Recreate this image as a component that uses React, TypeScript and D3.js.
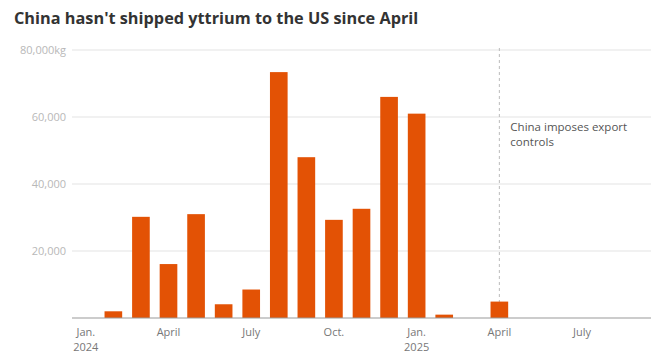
import * as d3 from "d3";
import React from "react";

const months = [
  "2024-01", "2024-02", "2024-03", "2024-04", "2024-05", "2024-06", "2024-07",
  "2024-08", "2024-09", "2024-10", "2024-11", "2024-12", "2025-01", "2025-02",
  "2025-03", "2025-04", "2025-05", "2025-06", "2025-07", "2025-08", "2025-09",
];
const shipments = [
  0, 2000, 30200, 16100, 31000, 4100, 8500, 73400, 48000, 29300, 32600,
  66000, 61000, 1000, 0, 4900, 0, 0, 0, 0, 0,
];
const yTicks = [20000, 40000, 60000, 80000];
const xTicks = [
  { month: "2024-01", label: ["Jan.", "2024"] },
  { month: "2024-04", label: ["April"] },
  { month: "2024-07", label: ["July"] },
  { month: "2024-10", label: ["Oct."] },
  { month: "2025-01", label: ["Jan.", "2025"] },
  { month: "2025-04", label: ["April"] },
  { month: "2025-07", label: ["July"] },
];
const annotationMonth = "2025-04";
const annotationText = ["China imposes export", "controls"];

const width = 659;
const height = 364;
const margin = { top: 50, right: 8, bottom: 46, left: 72 };
const font = "'Open Sans', 'Noto Sans', sans-serif";

export default function App() {
  const x = d3
    .scaleBand<string>()
    .domain(months)
    .range([margin.left, width - margin.right])
    .paddingInner(0.36)
    .paddingOuter(0.18);
  const y = d3
    .scaleLinear()
    .domain([0, 80000])
    .range([height - margin.bottom, margin.top]);
  const fmt = d3.format(",");
  const bw = x.bandwidth();
  const cx = (m: string) => (x(m) ?? 0) + bw / 2;
  const step = x.step();
  const axisLeft = (x(months[0]) ?? 0) - step * 0.5 + bw / 2;
  const axisRight = (x(months[months.length - 1]) ?? 0) + bw / 2 + step * 0.5;

  return (
    <svg width={width} height={height} style={{ display: "block", position: "absolute", left: 0, top: 0 }}>
      <rect width={width} height={height} fill="#fff" />
      <text x={14} y={24} fontFamily={font} fontWeight={700} fontSize={16.3} fill="#333">
        China hasn't shipped yttrium to the US since April
      </text>

      {yTicks.map((t) => (
        <g key={t}>
          <line x1={axisLeft} x2={axisRight} y1={y(t)} y2={y(t)} stroke="#e3e3e3" strokeWidth={1} />
          <text x={66} y={y(t)} dy="0.35em" textAnchor="end" fontFamily={font} fontSize={11} fill="#b8b8b8">
            {fmt(t) + (t === 80000 ? "kg" : "")}
          </text>
        </g>
      ))}

      <line
        x1={cx(annotationMonth)}
        x2={cx(annotationMonth)}
        y1={y(80000) - 2}
        y2={y(0)}
        stroke="#bbb"
        strokeDasharray="3,3"
      />
      {annotationText.map((s, i) => (
        <text key={i} x={cx(annotationMonth) + 11} y={y(60000) + 14 + i * 15} fontFamily={font} fontSize={11.5} fill="#555">
          {s}
        </text>
      ))}

      {months.map((m, i) =>
        shipments[i] > 0 ? (
          <rect key={m} x={x(m)} y={y(shipments[i])} width={bw} height={y(0) - y(shipments[i])} fill="#e35205" />
        ) : null
      )}

      <line x1={axisLeft} x2={axisRight} y1={y(0)} y2={y(0)} stroke="#999" strokeWidth={1.2} />

      {xTicks.map((t) => (
        <text key={t.month} x={cx(t.month)} y={y(0) + 18} textAnchor="middle" fontFamily={font} fontSize={11} fill="#777">
          {t.label.map((l, i) => (
            <tspan key={i} x={cx(t.month)} dy={i === 0 ? 0 : 15}>
              {l}
            </tspan>
          ))}
        </text>
      ))}
    </svg>
  );
}
